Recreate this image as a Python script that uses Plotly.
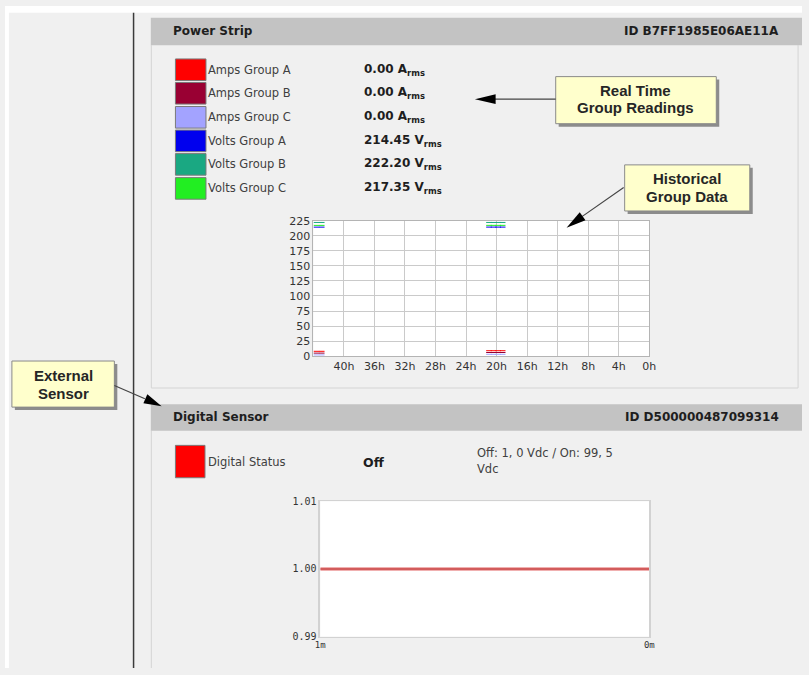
import plotly.graph_objects as go

W, H = 809, 675

# ---------------- data ----------------
group_names = ["Amps Group A", "Amps Group B", "Amps Group C",
               "Volts Group A", "Volts Group B", "Volts Group C"]
group_colors = ["#ff0000", "#990033", "#a3a3ff", "#0000ee", "#1aa882", "#22ee22"]
group_values = ["0.00", "0.00", "0.00", "214.45", "222.20", "217.35"]
group_units = ["A", "A", "A", "V", "V", "V"]

hist_hours = [43.6, 42.9, 21.0, 20.4, 19.8, 19.2]
hist_values = {
    "Amps Group A": [8, 8, 9, 9, 9, 9],
    "Amps Group B": [5, 5, 6, 6, 6, 6],
    "Amps Group C": [2, 2, 3, 3, 3, 3],
    "Volts Group A": [214.45, 214.45, 214.5, 214.5, 214.5, 214.5],
    "Volts Group B": [222.2, 222.2, 222.2, 222.2, 222.2, 222.2],
    "Volts Group C": [217.35, 217.35, 217.4, 217.4, 217.4, 217.4],
}
hist_xticks = [40, 36, 32, 28, 24, 20, 16, 12, 8, 4, 0]
hist_xlabels = ["40h", "36h", "32h", "28h", "24h", "20h", "16h", "12h", "8h", "4h", "0h"]
hist_yticks = [0, 25, 50, 75, 100, 125, 150, 175, 200, 225]

dig_x = [1, 0]
dig_y = [1.00, 1.00]
dig_xticks = [1, 0]
dig_xlabels = ["1m", "0m"]
dig_yticks = [0.99, 1.00, 1.01]
dig_ylabels = ["0.99", "1.00", "1.01"]


def X(p):
    return p / W


def Y(p):
    return 1 - p / H


fig = go.Figure()

# historical chart
for name, col in zip(group_names, group_colors):
    fig.add_trace(go.Scatter(
        x=hist_hours, y=hist_values[name], mode="markers", name=name,
        marker=dict(symbol="line-ew-open", size=4, color=col,
                    line=dict(color=col, width=1)),
        xaxis="x", yaxis="y", showlegend=False, hoverinfo="skip"))

# digital chart
fig.add_trace(go.Scatter(x=dig_x, y=dig_y, mode="lines",
                         line=dict(color="#f0b0b0", width=4),
                         xaxis="x2", yaxis="y2", showlegend=False, hoverinfo="skip"))
fig.add_trace(go.Scatter(x=dig_x, y=dig_y, mode="lines",
                         line=dict(color="#c84040", width=1.6),
                         xaxis="x2", yaxis="y2", showlegend=False, hoverinfo="skip"))

shapes = []
ann = []


def rect(x0, y0, x1, y1, fill, line=None, lw=0):
    shapes.append(dict(type="rect", xref="paper", yref="paper",
                       x0=X(x0), x1=X(x1), y0=Y(y0), y1=Y(y1),
                       fillcolor=fill, line=dict(width=lw, color=line or fill),
                       layer="above"))


def seg(x0, y0, x1, y1, col, w=1):
    shapes.append(dict(type="line", xref="paper", yref="paper",
                       x0=X(x0), x1=X(x1), y0=Y(y0), y1=Y(y1),
                       line=dict(color=col, width=w), layer="above"))


def tri(pts, col):
    path = "M " + " L ".join(f"{X(a)},{Y(b)}" for a, b in pts) + " Z"
    shapes.append(dict(type="path", xref="paper", yref="paper", path=path,
                       fillcolor=col, line=dict(width=0, color=col), layer="above"))


def text(x, y, s, size=11.5, color="#404040", family="DejaVu Sans",
         xanchor="left", bold=False):
    if bold:
        s = f"<b>{s}</b>"
    ann.append(dict(xref="paper", yref="paper", x=X(x), y=Y(y), text=s,
                    showarrow=False, xanchor=xanchor, yanchor="middle",
                    borderpad=0, borderwidth=0,
                    font=dict(size=size, color=color, family=family)))


# page frame
rect(0, 0, W, 7, "#ffffff")
rect(0, 0, 4, H, "#ffffff")
seg(130.5, 7, 130.5, H, "#3a3a3a", 1.5)

# panel 1 (Power Strip)
seg(148.5, 40, 148.5, 389.5, "#d4d4d4", 1)
seg(148.5, 389.5, 805, 389.5, "#d4d4d4", 1)
seg(805, 40, 805, 389.5, "#d4d4d4", 1)
rect(148, 12, W, 40, "#c3c3c3")
text(171, 26, "Power Strip", size=12, color="#1e1e1e", bold=True)
text(786, 26, "ID B7FF1985E06AE11A", size=12, color="#1e1e1e", bold=True, xanchor="right")

row_y = [65, 89, 113.5, 137.5, 161.5, 186]
for yc, name, col, val, unit in zip(row_y, group_names, group_colors, group_values, group_units):
    rect(173, yc - 11, 204, yc + 11, col, "#7a7a7a", 1)
    text(206, yc, name)
    text(364, yc, f"{val} {unit}<sub>rms</sub>", size=12, color="#1e1e1e", bold=True)

# panel 2 (Digital Sensor)
seg(148.5, 433, 148.5, H, "#d4d4d4", 1)
rect(148, 406, W, 433, "#c3c3c3")
text(171, 419.5, "Digital Sensor", size=12, color="#1e1e1e", bold=True)
text(786, 419.5, "ID D500000487099314", size=12, color="#1e1e1e", bold=True, xanchor="right")
rect(173, 448, 203, 481, "#ff0000", "#7a7a7a", 1)
text(206, 465, "Digital Status")
text(363, 465, "Off", size=12.5, color="#1e1e1e", bold=True)
text(479, 456, "Off: 1, 0 Vdc / On: 99, 5")
text(479, 472, "Vdc")


# callouts
def callout(x0, y0, x1, y1, lines):
    rect(x0 + 3, y0 + 3, x1 + 3, y1 + 3, "#8c8c8c")
    rect(x0, y0, x1, y1, "#ffffcc", "#8a8a8a", 1)
    cx = (x0 + x1) / 2
    for ly, s in lines:
        text(cx, ly, s, size=15, color="#262626", family="Liberation Sans",
             xanchor="center", bold=True)


callout(559, 72, 722, 120, [(86, "Real Time"), (104, "Group Readings")])
callout(629, 162, 756, 209, [(176, "Historical"), (194, "Group Data")])
callout(7, 362, 111, 409, [(377, "External"), (395, "Sensor")])

# arrows
seg(497, 95, 559, 95, "#444444", 1.2)
tri([(477, 95), (498, 90), (498, 100)], "#000000")

seg(628, 185, 586, 214.5, "#444444", 1.2)
tri([(570, 226), (589.2, 218.5), (583.4, 210.3)], "#000000")

seg(111, 387, 142, 400.5, "#444444", 1.2)
tri([(159, 408), (140.5, 405.0), (144.5, 396.0)], "#000000")

tick_font = dict(family="DejaVu Sans", size=11, color="#333333")
mono = dict(family="DejaVu Sans Mono", size=10, color="#333333")

fig.update_layout(
    width=W, height=H, margin=dict(l=0, r=0, t=0, b=0),
    paper_bgcolor="#f0f0f0", plot_bgcolor="#ffffff",
    showlegend=False, shapes=shapes, annotations=ann,
    xaxis=dict(domain=[X(313), X(654)], range=[44, 0], tickvals=hist_xticks,
               ticktext=hist_xlabels, showgrid=True, gridcolor="#cacaca",
               gridwidth=1, showline=True, mirror=True, linecolor="#b4b4b4",
               zeroline=False, ticks="", tickfont=tick_font, anchor="y",
               fixedrange=True),
    yaxis=dict(domain=[Y(357), Y(219)], range=[0, 225], tickvals=hist_yticks,
               showgrid=True, gridcolor="#cacaca", showline=True, mirror=True,
               linecolor="#b4b4b4", zeroline=False, ticks="", tickfont=tick_font,
               anchor="x", fixedrange=True),
    xaxis2=dict(domain=[X(320), X(654)], range=[1, 0], tickvals=dig_xticks,
                ticktext=dig_xlabels, showgrid=False, showline=True, mirror=True,
                linecolor="#d2d2d2", zeroline=False, ticks="",
                tickfont=dict(family="DejaVu Sans Mono", size=9, color="#333333"),
                anchor="y2", fixedrange=True),
    yaxis2=dict(domain=[Y(643), Y(505)], range=[0.99, 1.01], tickvals=dig_yticks,
                ticktext=dig_ylabels, showgrid=False, showline=True, mirror=True,
                linecolor="#d2d2d2", linewidth=1.5, zeroline=False, ticks="",
                tickfont=mono, anchor="x2", fixedrange=True),
)

fix_js = """
(function(){
  var s = document.createElement('style');
  s.textContent = 'html,body{margin:0!important;padding:0!important;overflow:hidden!important;} .plotly-graph-div{position:fixed!important;left:0!important;top:0!important;}';
  document.head.appendChild(s);
  document.body.style.margin='0';
})();
"""

fig.write_html("out.html", config={"displayModeBar": False}, post_script=fix_js)
